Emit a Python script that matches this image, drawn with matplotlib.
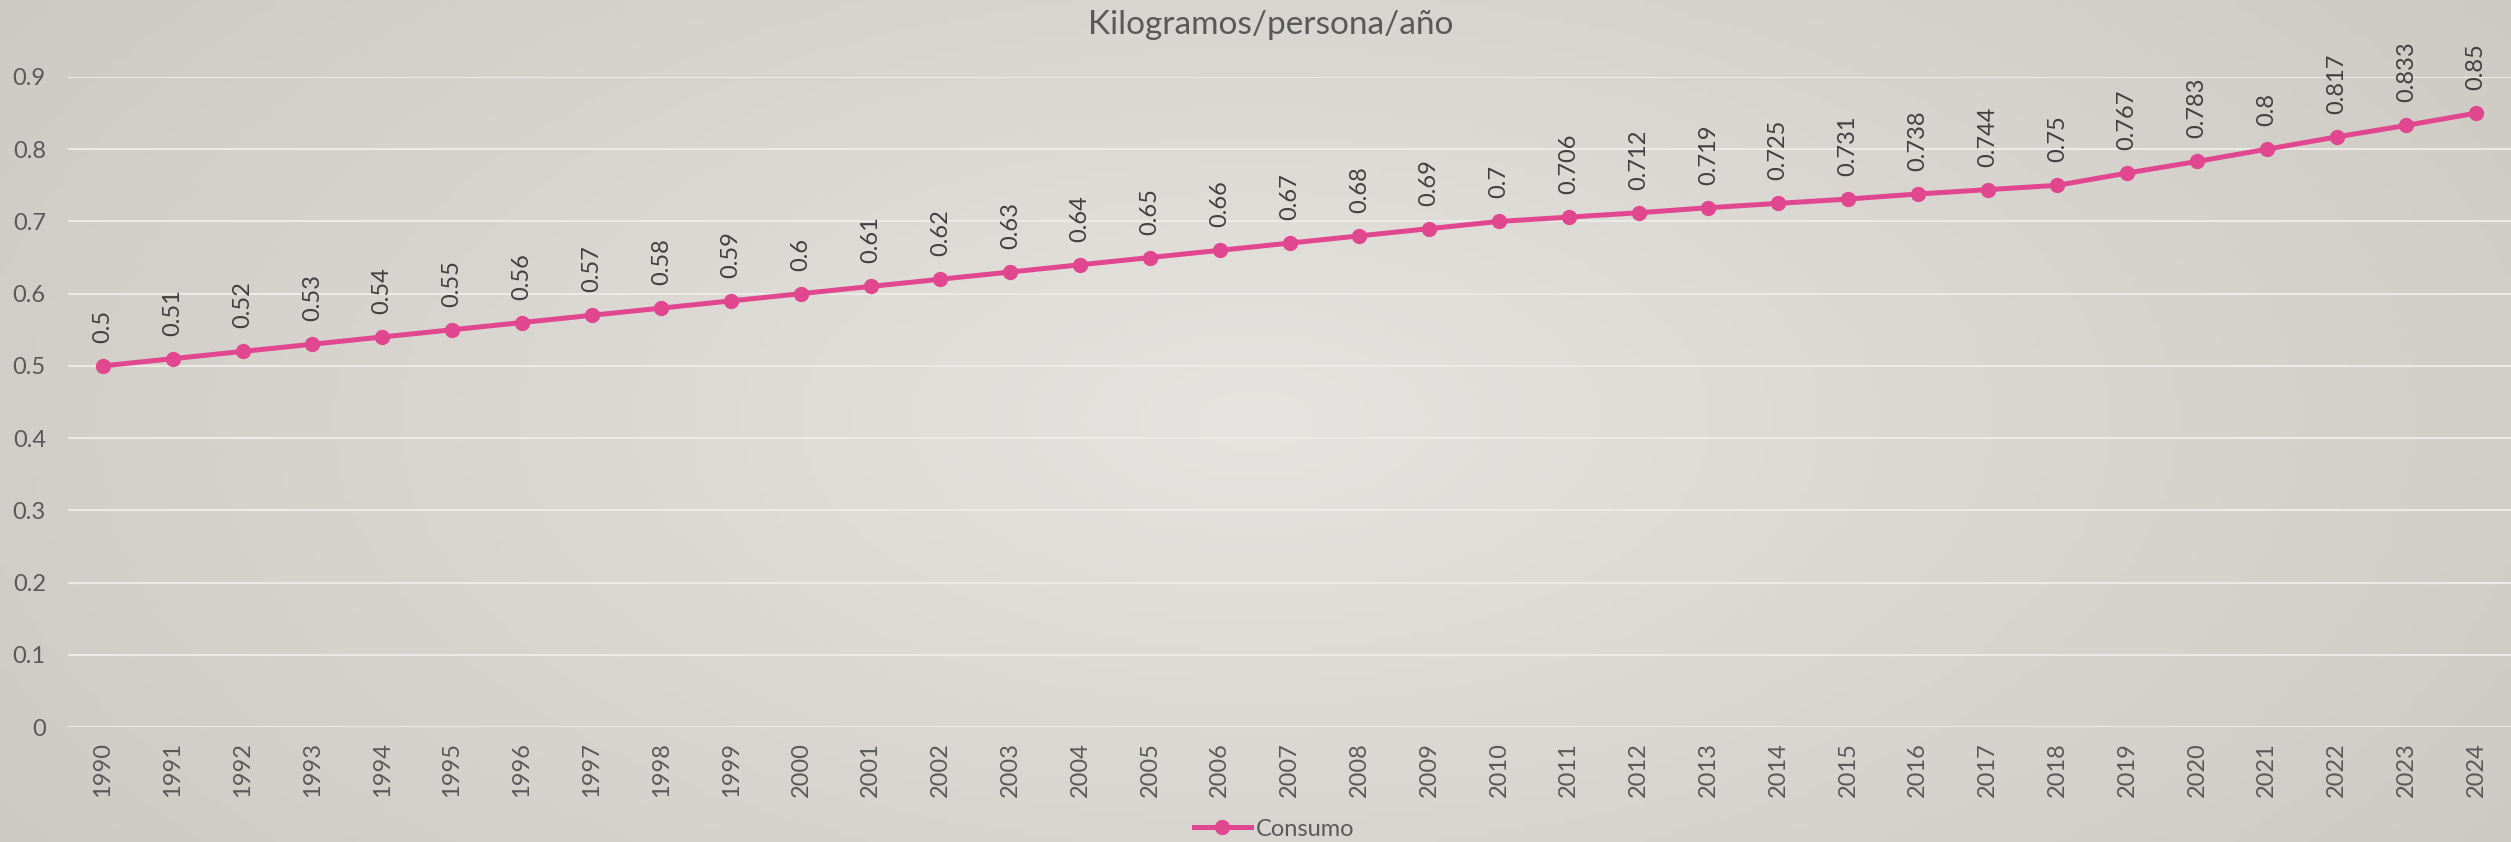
import numpy as np
import matplotlib
matplotlib.use("Agg")
import matplotlib.pyplot as plt
from matplotlib.colors import LinearSegmentedColormap

plt.rcParams['font.family'] = ['Lato', 'DejaVu Sans']

years = [str(y) for y in range(1990, 2025)]
consumo = [0.5, 0.51, 0.52, 0.53, 0.54, 0.55, 0.56, 0.57, 0.58, 0.59,
           0.6, 0.61, 0.62, 0.63, 0.64, 0.65, 0.66, 0.67, 0.68, 0.69,
           0.7, 0.706, 0.712, 0.719, 0.725, 0.731, 0.738, 0.744, 0.75, 0.767,
           0.783, 0.8, 0.817, 0.833, 0.85]
y_ticks = [0, 0.1, 0.2, 0.3, 0.4, 0.5, 0.6, 0.7, 0.8, 0.9]

pink = '#E0478F'

fig = plt.figure(figsize=(25.11, 8.42), dpi=100)

# soft radial background
bg = fig.add_axes([0, 0, 1, 1], zorder=-10)
gx, gy = np.meshgrid(np.linspace(-1, 1, 400), np.linspace(-1, 1, 140))
r = np.sqrt((gx * 0.9) ** 2 + (gy * 0.6) ** 2)
cmap = LinearSegmentedColormap.from_list('bgc', ['#E6E4E0', '#CDC9C3'])
bg.imshow(r, cmap=cmap, aspect='auto', extent=[0, 1, 0, 1], vmin=0, vmax=1.1)
bg.axis('off')

W, H = 2511, 842
ax = fig.add_axes([68 / W, 1 - 727 / H, 1 - 68 / W, (727 - 77) / H])
ax.patch.set_alpha(0)
x = np.arange(len(years))
ax.plot(x, consumo, color=pink, lw=3.6, marker='o', ms=10, label='Consumo',
        zorder=3)

for xi, v in zip(x, consumo):
    ax.annotate(f'{v:g}', (xi, v), xytext=(0, 23), textcoords='offset pixels',
                rotation=90, ha='center', va='bottom', fontsize=17,
                color='#404040', annotation_clip=False)

ax.set_xlim(-0.5, len(years) - 0.5)
ax.set_ylim(0, 0.9)
ax.set_yticks(y_ticks)
ax.set_yticklabels([f'{t:g}' for t in y_ticks])
ax.set_xticks(x)
ax.set_xticklabels(years, rotation=90)
ax.tick_params(axis='both', length=0, labelsize=17, colors='#595959')
ax.tick_params(axis='x', pad=11)
ax.tick_params(axis='y', pad=16)
ax.grid(axis='y', color='#ECEAE6', lw=1.5)
for s in ax.spines.values():
    s.set_visible(False)

fig.text(1271 / W, 1 - 25 / H, 'Kilogramos/persona/año',
         ha='center', va='center', fontsize=24, color='#595959')

fig.legend(loc='center', bbox_to_anchor=(1274 / W, 1 - 829 / H), frameon=False,
           fontsize=17, labelcolor='#595959', handlelength=2.4,
           handletextpad=0.2, borderpad=0)

fig.savefig('out.png', dpi=100)
